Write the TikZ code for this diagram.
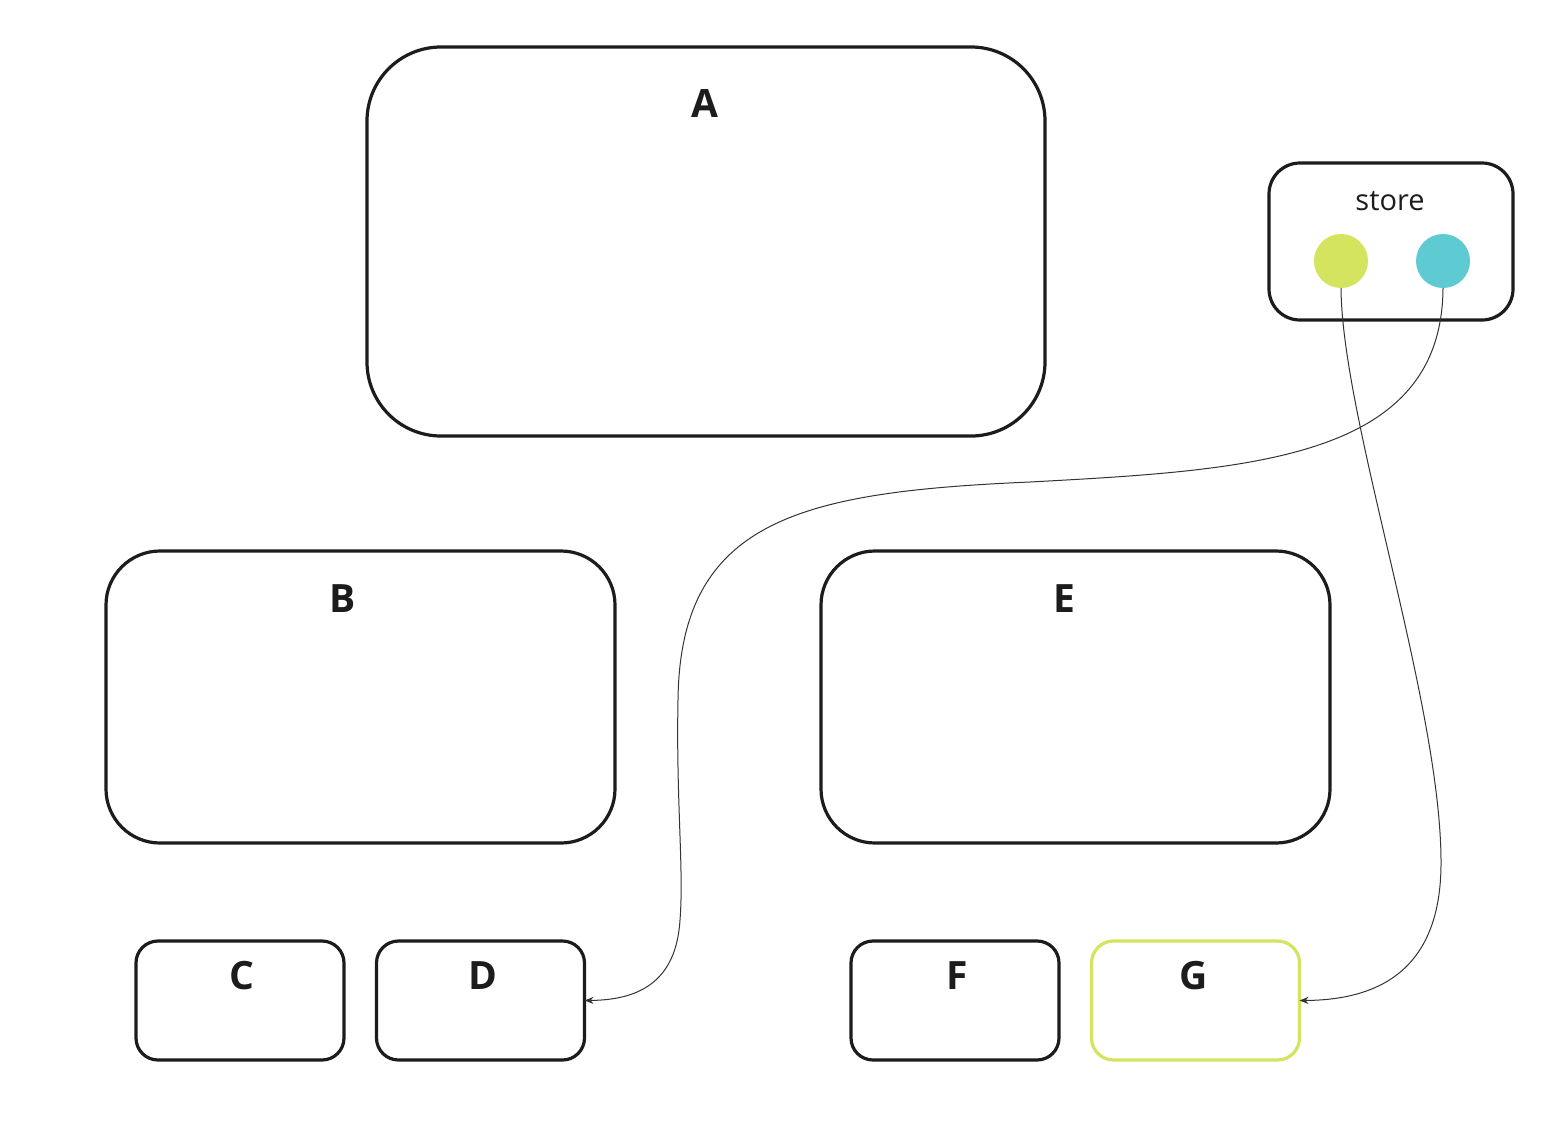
\documentclass[tikz,border=0pt]{standalone}
\usepackage{fontspec}
\setmainfont{Open Sans}
\usetikzlibrary{arrows.meta}
\definecolor{ink}{HTML}{1C1C1C}
\definecolor{lime}{HTML}{D4E45E}
\definecolor{teal}{HTML}{5ECBD3}
\definecolor{wire}{HTML}{333333}
\begin{document}
\begin{tikzpicture}[x=1pt,y=-1pt,
  box/.style={draw=ink,line width=3.2pt,inner sep=0pt,outer sep=0pt,fill=white},
  bigbox/.style={box,rounded corners=74pt},
  midbox/.style={box,rounded corners=54pt},
  smallbox/.style={box,rounded corners=22pt,minimum width=208pt,minimum height=119pt},
  lab/.style={anchor=base,inner sep=0pt,text=ink,font=\fontsize{39pt}{45pt}\selectfont\bfseries},
  dot/.style={circle,inner sep=0pt,outer sep=0pt,minimum size=54pt},
  wirestyle/.style={draw=wire,line width=1pt,-{Stealth[length=9pt,width=7pt]}}
]
\useasboundingbox (0,0) rectangle (1566,1146);
% boxes
\node[bigbox,minimum width=678pt,minimum height=389pt] (A) at (706,241.5) {};
\node[lab] (Alab) at (705,117) {A};
\node[box,rounded corners=31pt,minimum width=244pt,minimum height=157pt] (store) at (1391,241.5) {};
\node[anchor=base,inner sep=0pt,text=ink,font=\fontsize{29pt}{34pt}\selectfont] (storelab) at (1390,210) {store};
\node[dot,fill=lime] (ydot) at (1341,261) {};
\node[dot,fill=teal] (tdot) at (1443,261) {};
\node[midbox,minimum width=509pt,minimum height=292pt] (B) at (360.5,697) {};
\node[lab] (Blab) at (343,612) {B};
\node[midbox,minimum width=509pt,minimum height=292pt] (E) at (1075.5,697) {};
\node[lab] (Elab) at (1064,612) {E};
\node[smallbox] (C) at (240,1000.5) {};
\node[lab] (Clab) at (242,989) {C};
\node[smallbox] (D) at (480.5,1000.5) {};
\node[lab] (Dlab) at (483,989) {D};
\node[smallbox] (F) at (955,1000.5) {};
\node[lab] (Flab) at (957,989) {F};
\node[smallbox,draw=lime] (G) at (1195.5,1000.5) {};
\node[lab] (Glab) at (1194,989) {G};
% connectors
\draw[wirestyle] (tdot.south) .. controls (1442,460) and (1250,470) .. (1030,482)
  .. controls (800,492) and (680,520) .. (678,700)
  .. controls (676,800) and (684,870) .. (680,920)
  .. controls (676,985) and (635,1000) .. (D.east);
\draw[wirestyle] (ydot.south) .. controls (1342,420) and (1440,700) .. (1441,860)
  .. controls (1442,960) and (1390,1000) .. (G.east);
\end{tikzpicture}
\end{document}
